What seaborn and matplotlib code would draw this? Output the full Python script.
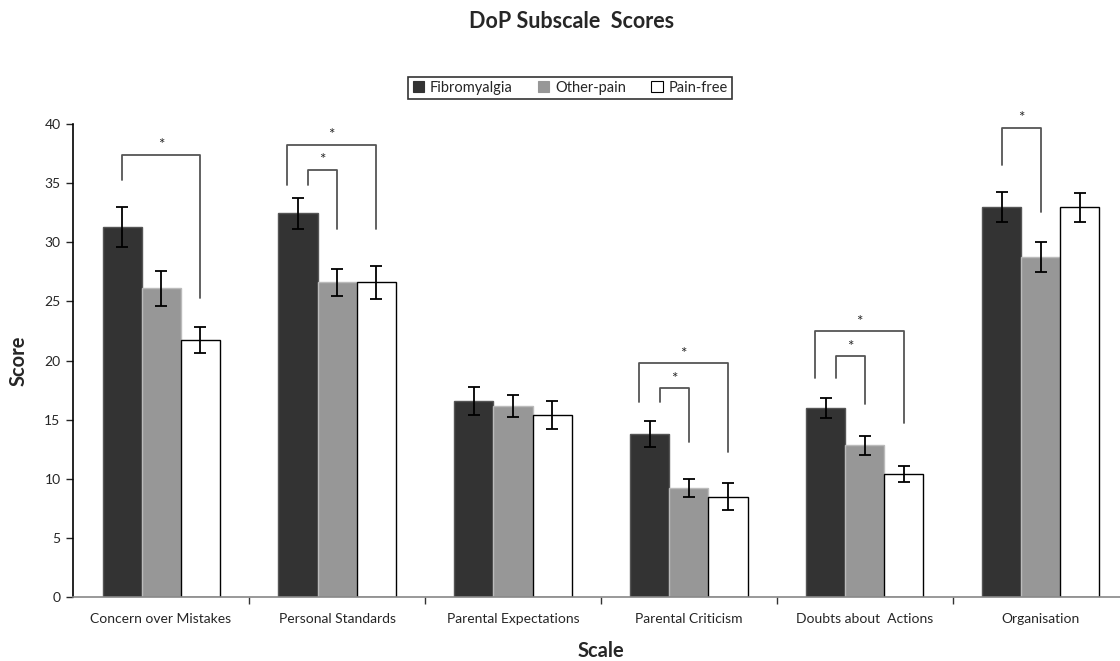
import numpy as np
import pandas as pd
import matplotlib
matplotlib.use("Agg")
import matplotlib.pyplot as plt
import seaborn as sns
from matplotlib.patches import Patch

# Subscale means and standard errors per group
scales = ["Concern over Mistakes", "Personal Standards", "Parental Expectations",
          "Parental Criticism", "Doubts about  Actions", "Organisation"]
groups = ["Fibromyalgia", "Other-pain", "Pain-free"]
fibro_mean = [31.3, 32.45, 16.6, 13.75, 15.95, 33.0]
other_mean = [26.1, 26.6, 16.15, 9.2, 12.85, 28.75]
free_mean = [21.7, 26.6, 15.4, 8.5, 10.4, 32.95]
fibro_se = [1.7, 1.3, 1.2, 1.1, 0.85, 1.25]
other_se = [1.5, 1.15, 0.9, 0.75, 0.8, 1.3]
free_se = [1.1, 1.4, 1.2, 1.1, 0.7, 1.2]

# Significance brackets: (scale index, from group, to group, bracket top,
# left leg bottom, right leg bottom)
brackets = [
    (0, 0, 2, 37.4, 35.25, 25.3),
    (1, 0, 2, 38.25, 34.8, 31.1),
    (1, 0, 1, 36.15, 34.8, 31.1),
    (3, 0, 2, 19.8, 16.45, 12.25),
    (3, 0, 1, 17.65, 16.45, 13.15),
    (4, 0, 2, 22.5, 18.55, 14.7),
    (4, 0, 1, 20.35, 18.55, 16.35),
    (5, 0, 1, 39.7, 36.5, 32.6),
]

df = pd.DataFrame({
    "Scale": scales * 3,
    "Group": [g for g in groups for _ in scales],
    "Score": fibro_mean + other_mean + free_mean,
    "SE": fibro_se + other_se + free_se,
})

sns.set_style("white")
plt.rcParams["font.family"] = ["Lato", "DejaVu Sans"]

fig = plt.figure(figsize=(11.2, 6.61), dpi=100)
ax = fig.add_axes([0.0652, 0.0968, 0.9428, 0.7156])

colors = {"Fibromyalgia": "#333333", "Other-pain": "#979797", "Pain-free": "#ffffff"}
sns.barplot(data=df, x="Scale", y="Score", hue="Group", order=scales,
            hue_order=groups, palette=colors, width=0.665, errorbar=None,
            legend=False, ax=ax, saturation=1)

edge = {"Fibromyalgia": "#555555", "Other-pain": "#bbbbbb", "Pain-free": "#000000"}
centers = {}
for g, cont in zip(groups, ax.containers):
    xs = []
    for p in cont.patches:
        p.set_edgecolor(edge[g])
        p.set_linewidth(1.0)
        xs.append(p.get_x() + p.get_width() / 2)
    centers[g] = xs
    sub = df[df["Group"] == g].set_index("Scale").loc[scales]
    ax.errorbar(xs, sub["Score"], yerr=sub["SE"], fmt="none", ecolor="black",
                elinewidth=1.3, capsize=4, capthick=1.3, zorder=5)

# Significance brackets
for ci, g1, g2, top, yl, yr in brackets:
    x1 = centers[groups[g1]][ci]
    x2 = centers[groups[g2]][ci]
    if ci in (1, 3, 4):
        x1 += -0.06 if g2 == 2 else 0.055
    ax.plot([x1, x1, x2, x2], [yl, top, top, yr], color="#555555", lw=1.3,
            clip_on=False, zorder=6)
    ax.text((x1 + x2) / 2, top + 0.2, "*", ha="center", va="bottom",
            fontsize=11, clip_on=False)

ax.set_ylim(0, 40)
ax.set_xlim(-0.5, 5.5)
ax.set_yticks(np.arange(0, 41, 5))
ax.tick_params(axis="y", left=True, length=5, width=1, labelsize=10, pad=4)
ax.tick_params(axis="x", bottom=False, labelsize=10, pad=8)
ax.set_xticks(np.arange(0.5, 5.0, 1.0), minor=True)
ax.tick_params(axis="x", which="minor", bottom=True, length=5, width=1,
               color="#333333")

for s in ["top", "right"]:
    ax.spines[s].set_visible(False)
ax.spines["left"].set_color("black")
ax.spines["left"].set_linewidth(1.2)
ax.spines["bottom"].set_color("#888888")
ax.spines["bottom"].set_linewidth(1.2)

ax.set_ylabel("Score", fontsize=14.5, fontweight="bold")
ax.yaxis.set_label_coords(-0.052, 0.5)
ax.yaxis.label.set_va("center")
ax.set_xlabel("Scale", fontsize=14.5, fontweight="bold")
ax.xaxis.set_label_coords(0.5, -0.114)
ax.xaxis.label.set_va("center")
fig.text(0.51, 1 - 21 / 661, "DoP Subscale  Scores", ha="center", va="center",
         fontsize=15.5, fontweight="bold")

handles = [Patch(facecolor=colors[g], edgecolor=("#000000" if g == "Pain-free" else colors[g]),
                 lw=0.8) for g in groups]
leg = fig.legend(handles, groups, loc="center", bbox_to_anchor=(0.509, 0.867),
                 ncol=3, frameon=True, fontsize=10.5, handlelength=0.8,
                 handleheight=0.8, handletextpad=0.4, columnspacing=1.7,
                 borderpad=0.3, fancybox=False)
leg.get_frame().set_edgecolor("black")
leg.get_frame().set_linewidth(1.2)

fig.savefig("out.png", dpi=100)
